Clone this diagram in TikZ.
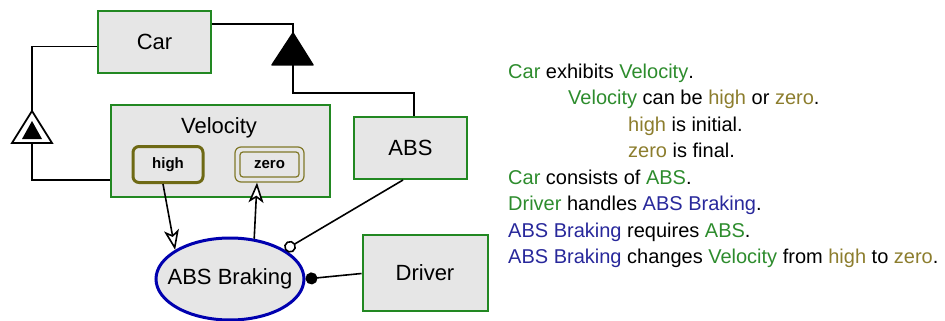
\documentclass[tikz,border=0pt]{standalone}
\usepackage{fontspec}
\setmainfont{Liberation Sans}
\usetikzlibrary{arrows.meta,shapes.geometric}

\definecolor{objline}{RGB}{34,136,34}
\definecolor{objfill}{RGB}{230,230,230}
\definecolor{stateline}{RGB}{110,105,20}
\definecolor{finalline}{RGB}{128,120,40}
\definecolor{procline}{RGB}{0,0,175}
\definecolor{objtext}{RGB}{45,140,45}
\definecolor{statetext}{RGB}{140,125,45}
\definecolor{proctext}{RGB}{40,40,155}

\tikzset{
  object/.style={draw=objline, line width=2pt, fill=objfill, rectangle,
    inner sep=0pt, font=\fontsize{22}{26}\selectfont},
  statebox/.style={rectangle, rounded corners=6pt, inner sep=0pt,
    font=\fontsize{15}{18}\selectfont\bfseries},
  process/.style={draw=procline, line width=3pt, fill=objfill, ellipse,
    inner sep=0pt, font=\fontsize{22}{26}\selectfont},
  link/.style={draw=black, line width=1.6pt},
  opentip/.style={-{Stealth[open, fill=white, length=20pt, width=15pt, inset=5pt]}},
  sentence/.style={anchor=base west, inner sep=0pt, font=\fontsize{20}{24}\selectfont}
}
\newcommand{\obj}[1]{\textcolor{objtext}{#1}}
\newcommand{\stt}[1]{\textcolor{statetext}{#1}}
\newcommand{\prc}[1]{\textcolor{proctext}{#1}}

\begin{document}
\begin{tikzpicture}[x=1pt, y=-1pt]
\useasboundingbox (0,0) rectangle (945,321);

% things
\node[object, minimum width=113pt, minimum height=62pt] (car) at (154.5,42) {Car};
\node[object, minimum width=219pt, minimum height=92pt] (vel) at (220,151) {};
\node[font=\fontsize{22}{26}\selectfont, inner sep=0pt] (veltext) at (219,128) {Velocity};
\node[object, minimum width=113pt, minimum height=62pt] (abs) at (410.5,148) {ABS};
\node[object, minimum width=125pt, minimum height=76pt] (driver) at (425,273) {Driver};
\node[process, minimum width=148pt, minimum height=82pt] (braking) at (230,279) {\makebox[0pt]{ABS Braking}};

% states of Velocity
\node[statebox, draw=stateline, line width=3pt, minimum width=70pt, minimum height=36pt] (high) at (168,164.5) {high};
\node[statebox, draw=finalline, line width=1.2pt, minimum width=69pt, minimum height=35pt] (zero) at (269.5,164.5) {};
\node[statebox, draw=finalline, line width=1.2pt, rounded corners=3pt, minimum width=59pt, minimum height=25pt] (zeroin) at (269.5,164.5) {zero};

% exhibition link (Car -- Velocity)
\coordinate (exTop) at (32,111);
\coordinate (exBot) at (32,143);
\draw[link] ([yshift=-4.5pt]car.west) -| (exTop);
\draw[link] (exBot) |- ([yshift=-29pt]vel.west);
\draw[line width=1.8pt, fill=white] (exTop) -- (52,143) -- (12,143) -- cycle;
\fill[black] (32,121) -- (42,139) -- (22,139) -- cycle;

% aggregation link (Car -- ABS)
\coordinate (agTop) at (293,33);
\coordinate (agBot) at (293,65);
\draw[link] ([yshift=18pt]car.east) -| (agTop);
\draw[link] (agBot) -- (293,93) -| ([xshift=3.5pt]abs.north);
\draw[line width=1.5pt, fill=black, line join=round] (agTop) -- (313,65) -- (272,65) -- cycle;

% transitions
\draw[link, opentip] ([xshift=-5pt]high.south) -- (braking.152);
\draw[link, opentip] (braking.59) -- ([xshift=-12.5pt]zero.south);

% instrument and agent links
\draw[link, -{Circle[open, fill=white, length=12pt, width=12pt]}] ([xshift=-7.5pt]abs.south) -- (braking.28);
\draw[link, -{Circle[length=12pt, width=12pt]}] ([yshift=-0.5pt]driver.west) -- (braking.east);

% sentences
\node[sentence] (t1) at (508,78) {\obj{Car} exhibits \obj{Velocity}.};
\node[sentence] (t2) at (568,104.5) {\obj{Velocity} can be \stt{high} or \stt{zero}.};
\node[sentence] (t3) at (628,131) {\stt{high} is initial.};
\node[sentence] (t4) at (628,157.5) {\stt{zero} is final.};
\node[sentence] (t5) at (508,184) {\obj{Car} consists of \obj{ABS}.};
\node[sentence] (t6) at (508,210.5) {\obj{Driver} handles \prc{ABS Braking}.};
\node[sentence] (t7) at (508,237) {\prc{ABS Braking} requires \obj{ABS}.};
\node[sentence] (t8) at (508,263.5) {\prc{ABS Braking} changes \obj{Velocity} from \stt{high} to \stt{zero}.};
\end{tikzpicture}
\end{document}
